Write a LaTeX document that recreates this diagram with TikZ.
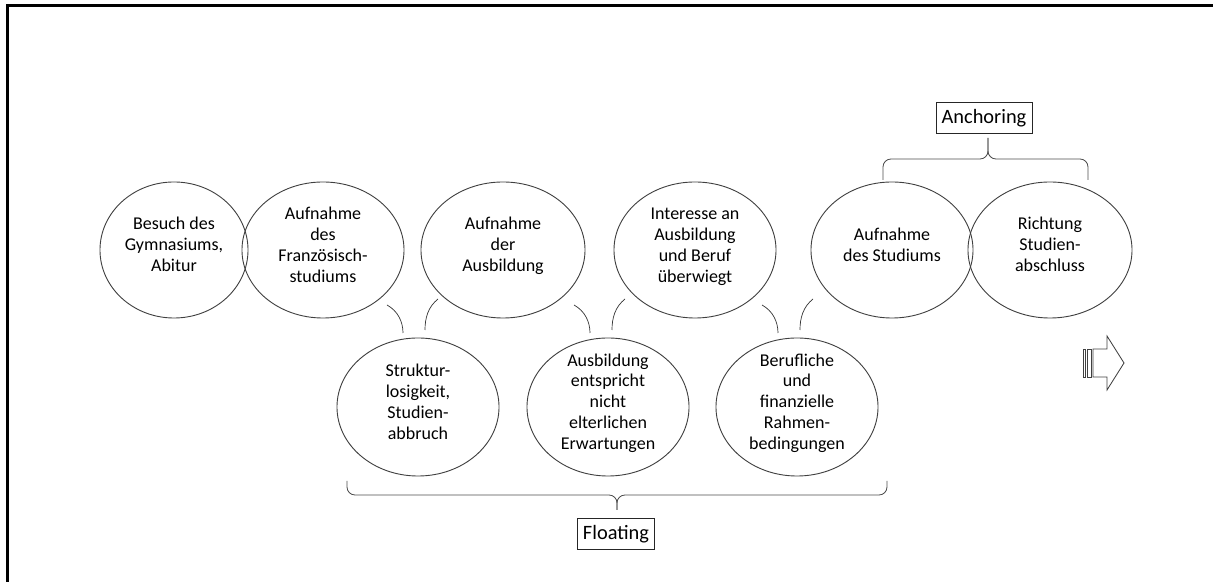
\documentclass[tikz,border=0pt]{standalone}
\usepackage{fontspec}
\setmainfont{Carlito}
\usepackage{tikz}
\usetikzlibrary{shapes.geometric,positioning}
\tikzstyle{bulle}=[ellipse, draw=black!75, line width=0.65pt, inner sep=0pt, minimum width=4.05cm, minimum height=3.4cm, font=\fontsize{12.8pt}{14.8pt}\selectfont]
\tikzstyle{cadre}=[draw=black!85, line width=0.6pt, inner xsep=4pt, minimum height=0.78cm, font=\fontsize{14.5pt}{16pt}\selectfont]
\tikzstyle{accolade}=[draw=black!70, line width=0.6pt, rounded corners=0.2cm]
\tikzstyle{liaison}=[draw=black!80, line width=0.5pt]
\newcommand{\dedans}[1]{\smash{\raisebox{-0.1ex}{\begin{tabular}{@{}c@{}}#1\end{tabular}}}}

\begin{document}
\begin{tikzpicture}[x=0.025cm, y=-0.025cm]
\useasboundingbox (0,0) rectangle (1213,582);

% cadre
\draw[line width=1.7pt] (7.5,582) -- (7.5,5.5) -- (1213,5.5);

% ligne du haut
\node[bulle, minimum width=3.7cm] (gymn) at (174,250) {\dedans{Besuch des\\Gymnasiums,\\Abitur}};
\node[bulle] (franz) at (323,250) {\dedans{Aufnahme\\des\\Französisch-\\studiums}};
\node[bulle, minimum width=4.1cm] (ausb) at (503,250) {\dedans{Aufnahme\\der\\Ausbildung}};
\node[bulle] (inter) at (695,250) {\dedans{Interesse an\\Ausbildung\\und Beruf\\überwiegt}};
\node[bulle] (stud) at (892,250) {\dedans{Aufnahme\\des Studiums}};
\node[bulle, minimum width=4.1cm] (abschl) at (1050,250) {\dedans{Richtung\\Studien-\\abschluss}};

% ligne du bas
\node[bulle, minimum height=3.45cm] (struk) at (418,407) {\dedans{Struktur-\\losigkeit,\\Studien-\\abbruch}};
\node[bulle, minimum height=3.45cm] (eltern) at (608,407) {\dedans{Ausbildung\\entspricht\\nicht\\elterlichen\\Erwartungen}};
\node[bulle, minimum height=3.45cm] (rahmen) at (797,407) {\dedans{Berufliche\\und\\finanzielle\\Rahmen-\\bedingungen}};

% petits arcs
\foreach \d in {0,187,375}
{
    \draw[liaison] (387+\d,305) .. controls (398+\d,311) and (403+\d,322) .. (403+\d,333);
    \draw[liaison] (438+\d,299) .. controls (428+\d,307) and (425+\d,318) .. (425+\d,330);
}

% Anchoring
\node[cadre] (anch) at (984,118) {Anchoring};
\coordinate (a1) at (883,180);
\coordinate (a2) at (1088,180);
\coordinate (atip) at (988,138);
\draw[accolade] (a1) -- (883,159) -- (988,159) -- (atip);
\draw[accolade] (a2) -- (1088,159) -- (988,159) -- (atip);

% Floating
\node[cadre] (float) at (616,534) {Floating};
\coordinate (f1) at (347,481);
\coordinate (f2) at (887,481);
\coordinate (ftip) at (617,510);
\draw[accolade] (f1) -- (347,495) -- (617,495) -- (ftip);
\draw[accolade] (f2) -- (887,495) -- (617,495) -- (ftip);

% fleche
\draw[black!75, line width=0.5pt] (1083,349) rectangle (1085,377);
\draw[black!75, line width=0.5pt] (1087,349) rectangle (1091,377);
\draw[black!75, line width=0.6pt] (1093,349) -- (1107,349) -- (1107,336) -- (1124,363) -- (1107,390) -- (1107,377) -- (1093,377) -- cycle;

\end{tikzpicture}
\end{document}
